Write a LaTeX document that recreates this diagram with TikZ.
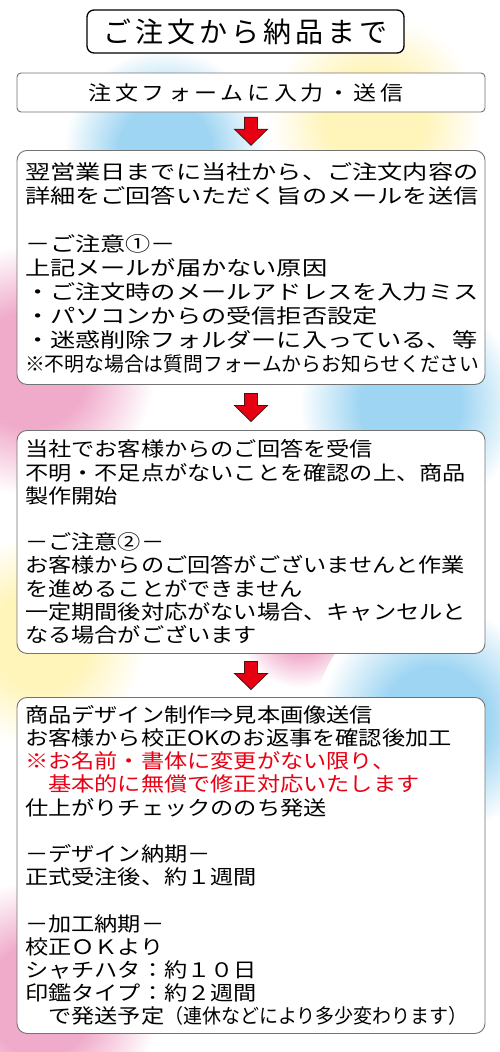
\documentclass[tikz,border=0pt]{standalone}
\usepackage{fontspec}
\newfontfamily\jptitle[LetterSpace=14]{Noto Sans CJK JP}
\newfontfamily\jpform[FakeStretch=1.15,LetterSpace=18]{Noto Sans CJK JP}
\newfontfamily\jpwide[FakeStretch=1.26]{Noto Sans CJK JP}
\newfontfamily\jpmid[FakeStretch=1.16]{Noto Sans CJK JP}
\newfontfamily\jpnarrow[FakeStretch=0.99]{Noto Sans CJK JP}
\newfontfamily\jpslim[FakeStretch=0.95]{Noto Sans CJK JP}
\definecolor{arrowred}{RGB}{230,0,18}
\definecolor{arrowedge}{RGB}{70,20,20}
\definecolor{noticered}{RGB}{232,0,20}
\definecolor{boxgray}{RGB}{115,115,115}
\definecolor{blobblue}{RGB}{158,213,242}
\definecolor{blobyellow}{RGB}{255,244,185}
\definecolor{blobpink}{RGB}{240,170,202}
% stops inside 25bp: that is the rim of the shaded circle
\pgfdeclareradialshading{blueblob}{\pgfpointorigin}{color(0bp)=(blobblue); color(11bp)=(blobblue); color(24bp)=(white); color(50bp)=(white)}
\pgfdeclareradialshading{yellowblob}{\pgfpointorigin}{color(0bp)=(blobyellow); color(11bp)=(blobyellow); color(24bp)=(white); color(50bp)=(white)}
\pgfdeclareradialshading{pinkblob}{\pgfpointorigin}{color(0bp)=(blobpink); color(11bp)=(blobpink); color(24bp)=(white); color(50bp)=(white)}
\tikzset{
  stepbox/.style={draw=boxgray, line width=0.9pt, fill=white, rounded corners=10pt,
    minimum width=468pt, text width=452pt, inner xsep=8pt, inner ysep=0pt,
    align=left, anchor=north},
  redarrow/.style={fill=arrowred, draw=arrowedge, line width=0.8pt}
}
\newcommand{\flowarrow}[1]{%
  \filldraw[redarrow] ([shift={(-6.5,-14)}]#1) -- ++(13,0) -- ++(0,12) -- ++(10,0)
    -- ++(-16.5,16) -- ++(-16.5,-16) -- ++(10,0) -- cycle;}
\begin{document}
\begin{tikzpicture}[x=1pt,y=-1pt]
  \fill[white] (0,0) rectangle (500,1052);
  \useasboundingbox (0,0) rectangle (500,1052);
  % background blobs
  \shade[shading=blueblob]   (165,150) circle (105);
  \shade[shading=yellowblob] (375,120) circle (110);
  \shade[shading=pinkblob]   (30,370)  circle (130);
  \shade[shading=blueblob]   (410,405) circle (115);
  \shade[shading=yellowblob] (40,640)  circle (110);
  \shade[shading=pinkblob]   (300,625) circle (65);
  \shade[shading=blueblob]   (435,720) circle (120);
  \shade[shading=pinkblob]   (40,1000) circle (125);
  % title
  \node[draw=black, line width=1.3pt, fill=white, rounded corners=7pt,
    minimum width=317pt, minimum height=43pt, inner sep=0pt,
    font=\fontsize{28}{30}\selectfont] (title) at (245.5,31.5) {\jptitle ご注文から納品まで};
  % steps
  \node[draw=boxgray, line width=0.9pt, fill=white, rounded corners=4pt,
    minimum width=468pt, minimum height=39pt, inner sep=0pt,
    font=\fontsize{20}{24}\selectfont] (form) at (251,92.5) {\jpform 注文フォームに入力・送信\hspace*{10pt}};
  \node[stepbox, minimum height=234pt, font={\fontsize{20}{24}\selectfont\jpwide}] (reply) at (251,150) {%
    翌営業日までに当社から、ご注文内容の\\
    詳細をご回答いただく旨のメールを送信\\[24pt]
    －ご注意①－\\
    上記メールが届かない原因\\
    ・ご注文時のメールアドレスを入力ミス\\
    ・パソコンからの受信拒否設定\\
    ・迷惑削除フォルダーに入っている、等\\
    {\jpnarrow ※不明な場合は質問フォームからお知らせください}};
  \node[stepbox, minimum height=223pt, font={\fontsize{20}{23.2}\selectfont\jpmid}] (start) at (251,430) {%
    当社でお客様からのご回答を受信\\
    不明・不足点がないことを確認の上、商品\\
    製作開始\\[23.2pt]
    －ご注意②－\\
    お客様からのご回答がございませんと作業\\
    を進めることができません\\
    一定期間後対応がない場合、キャンセルと\\
    なる場合がございます};
  \node[stepbox, minimum height=336pt, font={\fontsize{20}{23.2}\selectfont\jpmid}] (design) at (251,697) {%
    商品デザイン制作⇒見本画像送信\\
    お客様から校正OKのお返事を確認後加工\\
    \textcolor{noticered}{※お名前・書体に変更がない限り、}\\
    \textcolor{noticered}{　基本的に無償で修正対応いたします}\\
    仕上がりチェックののち発送\\[23.2pt]
    －デザイン納期－\\
    正式受注後、約１週間\\[23.2pt]
    －加工納期－\\
    校正ＯＫより\\
    シャチハタ：約１０日\\
    印鑑タイプ：約２週間\\
    　で発送予定{\jpslim （連休などにより多少変わります）}};
  % arrows
  \path (form.south) -- (reply.north) coordinate[pos=0.5] (a1);
  \path (reply.south) -- (start.north) coordinate[pos=0.5] (a2);
  \path (start.south) -- (design.north) coordinate[pos=0.5] (a3);
  \flowarrow{a1}
  \flowarrow{a2}
  \flowarrow{a3}
\end{tikzpicture}
\end{document}
